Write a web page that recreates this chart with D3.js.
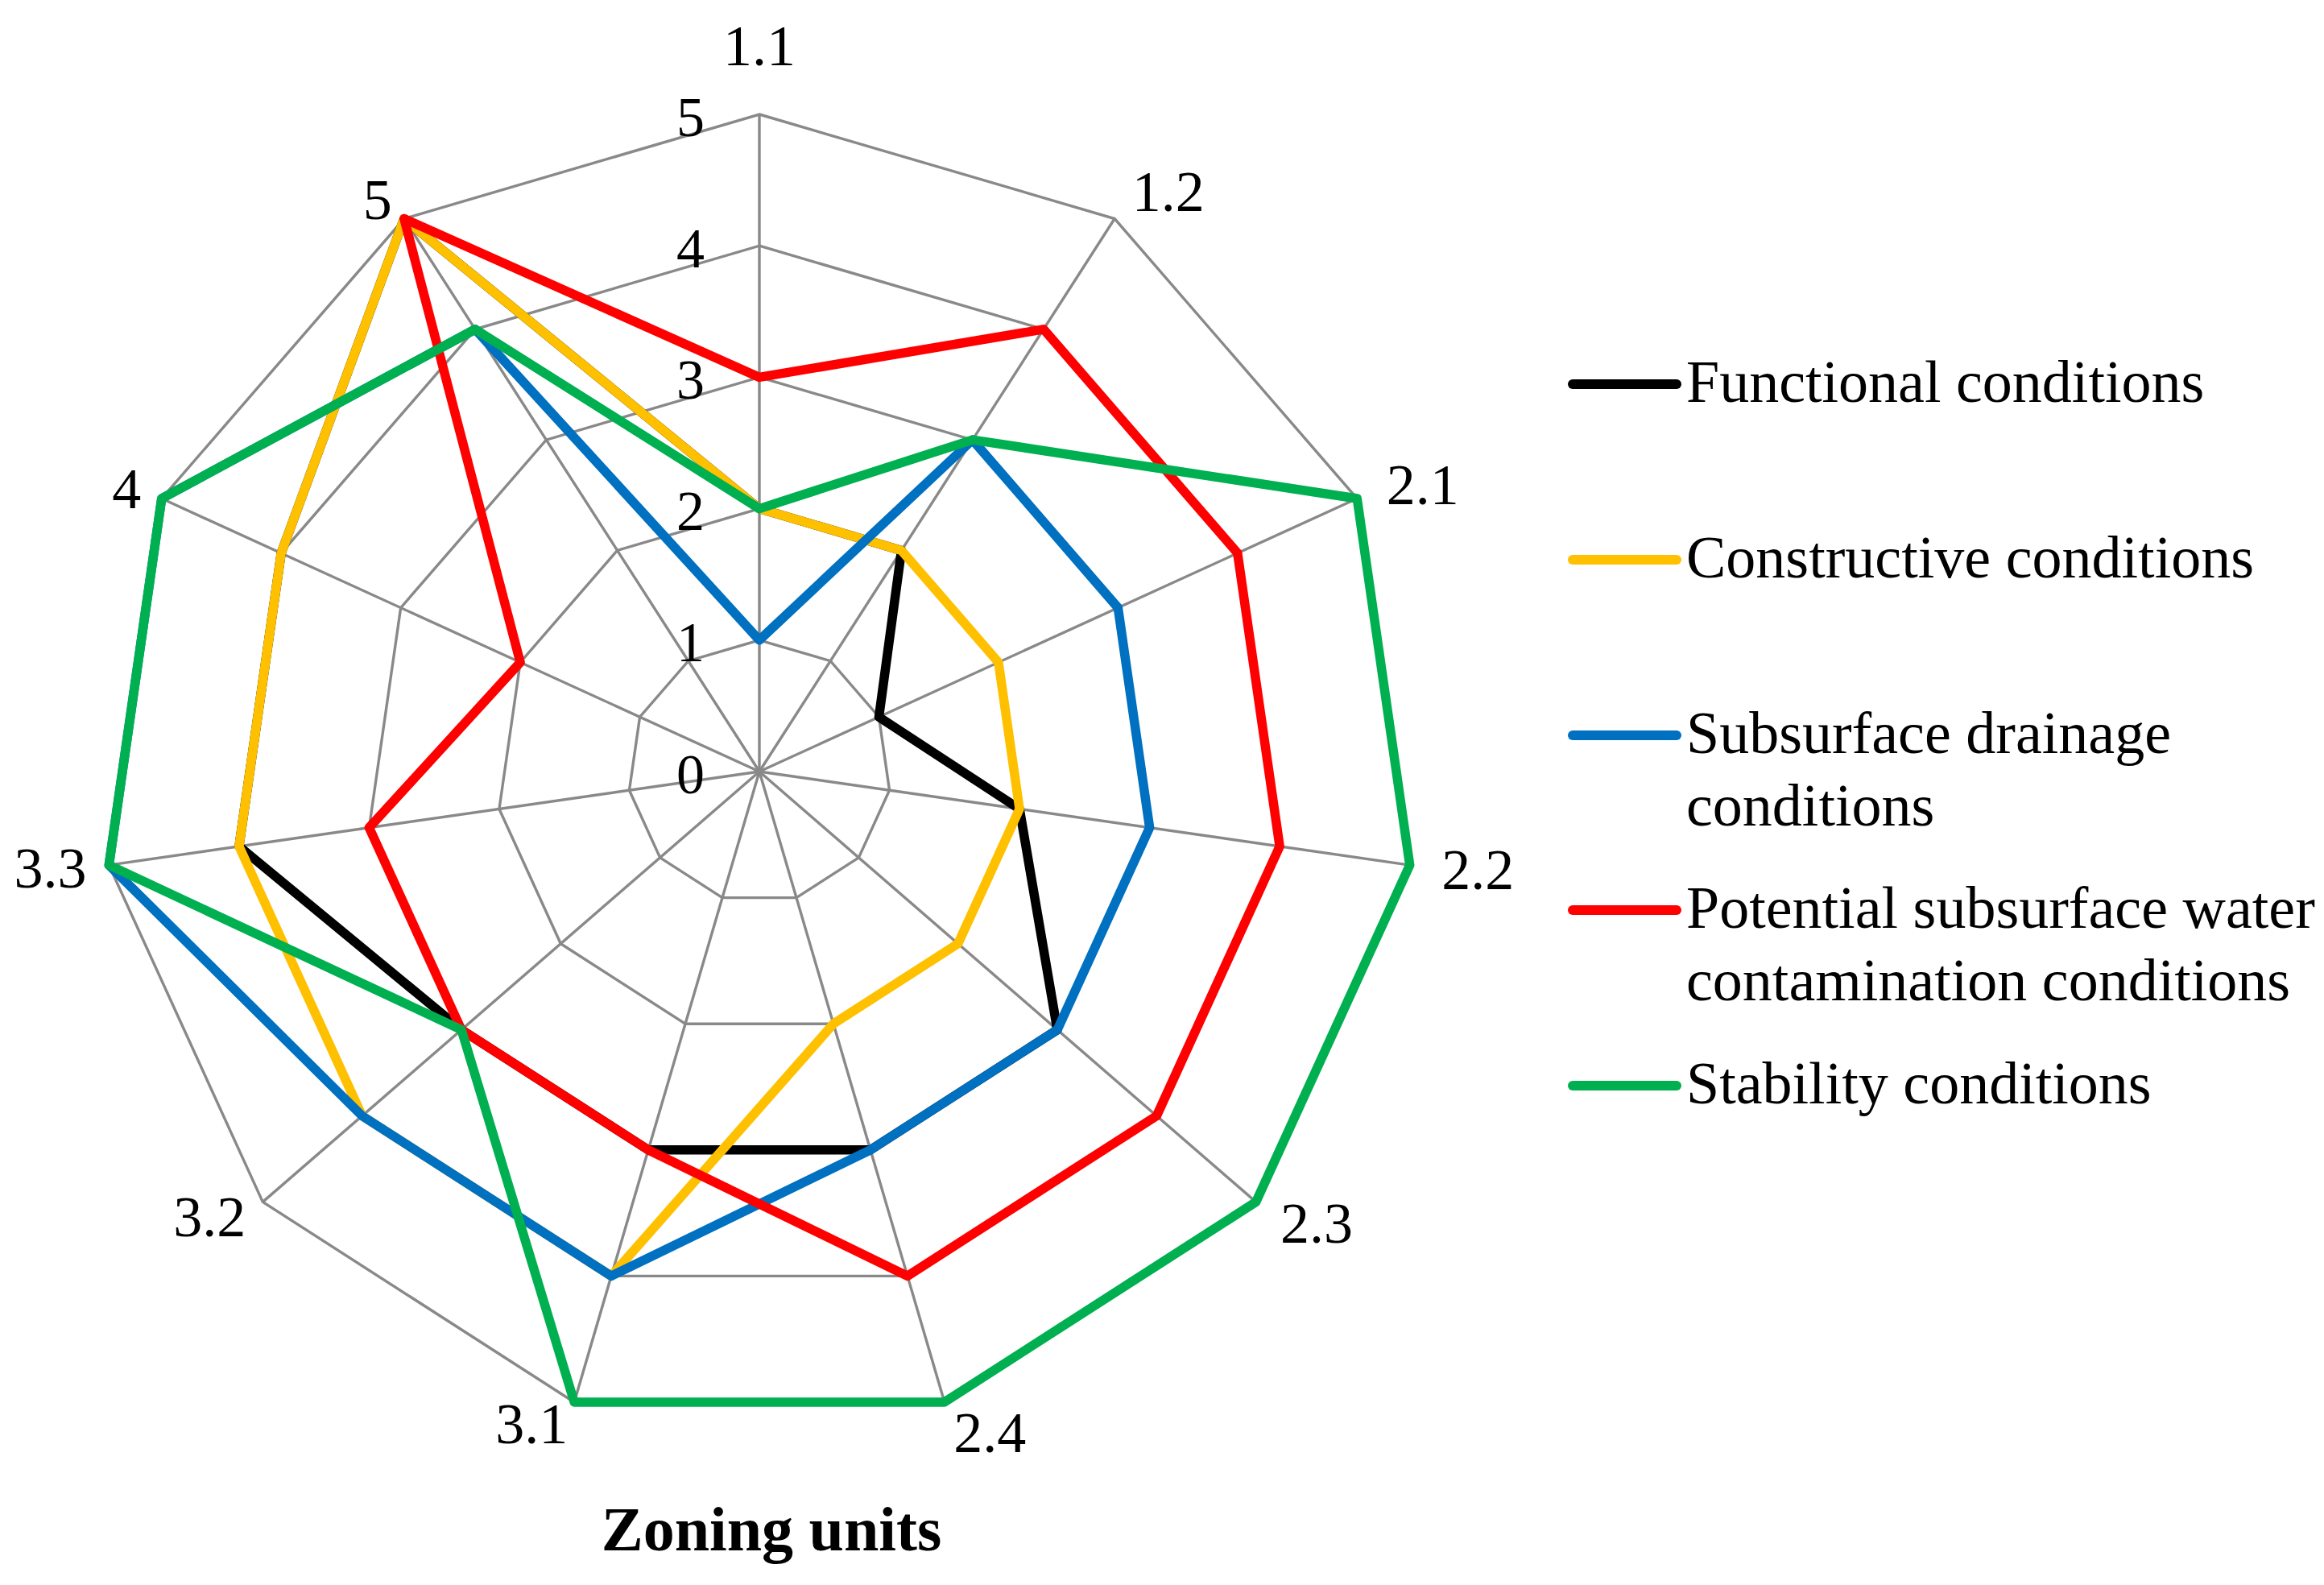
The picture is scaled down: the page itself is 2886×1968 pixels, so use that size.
<!DOCTYPE html>
<html>
<head>
<meta charset="utf-8">
<script src="https://cdn.jsdelivr.net/npm/d3@7"></script>
<style>
  html, body { margin: 0; padding: 0; background: #fff; }
  svg { display: block; }
  text { font-family: "Palatino Linotype", "Book Antiqua", Palatino, "Liberation Serif", serif; fill: #000; }
</style>
</head>
<body>
<svg id="chart" width="2886" height="1968"></svg>
<script>
// ---- data ----
const categories = ["1.1", "1.2", "2.1", "2.2", "2.3", "2.4", "3.1", "3.2", "3.3", "4", "5"];
const seriesNames = [
  ["Functional conditions"],
  ["Constructive conditions"],
  ["Subsurface drainage", "conditions"],
  ["Potential subsurface water", "contamination conditions"],
  ["Stability conditions"]
];
const functional   = [2, 2, 1, 2, 3, 3, 3, 3, 4, 4, 5];
const constructive = [2, 2, 2, 2, 2, 2, 4, 4, 4, 4, 5];
const drainage     = [1, 3, 3, 3, 3, 3, 4, 4, 5, 5, 4];
const contamination= [3, 4, 4, 4, 4, 4, 3, 3, 3, 2, 5];
const stability    = [2, 3, 5, 5, 5, 5, 5, 3, 5, 5, 4];
const tickValues = [0, 1, 2, 3, 4, 5];
const axisTitle = "Zoning units";

const seriesValues = [functional, constructive, drainage, contamination, stability];
const colors = ["#000000", "#FFC000", "#0070C0", "#FF0000", "#00B050"];

// ---- layout ----
const cx = 943, cy = 958, R = 816;
const svg = d3.select("#chart");
const g = svg.append("g").attr("transform", `translate(${cx},${cy})`);

const r = d3.scaleLinear().domain([0, 5]).range([0, R]);
const angle = d3.scaleLinear().domain([0, categories.length]).range([0, 2 * Math.PI]);

const radial = d3.lineRadial()
  .angle((d, i) => angle(i))
  .radius(d => r(d))
  .curve(d3.curveLinearClosed);

// grid rings
g.append("g").selectAll("path")
  .data(tickValues.filter(v => v > 0))
  .join("path")
  .attr("d", v => radial(categories.map(() => v)))
  .attr("fill", "none")
  .attr("stroke", "#898989")
  .attr("stroke-width", 3.4);

// spokes
g.append("g").selectAll("line")
  .data(categories)
  .join("line")
  .attr("x1", 0).attr("y1", 0)
  .attr("x2", (d, i) => r(5) * Math.sin(angle(i)))
  .attr("y2", (d, i) => -r(5) * Math.cos(angle(i)))
  .attr("stroke", "#898989")
  .attr("stroke-width", 3.4);

// series lines
g.append("g").selectAll("path")
  .data(seriesValues)
  .join("path")
  .attr("d", d => radial(d))
  .attr("fill", "none")
  .attr("stroke", (d, i) => colors[i])
  .attr("stroke-width", 11.5)
  .attr("stroke-linejoin", "round");

// tick labels
g.append("g").selectAll("text")
  .data(tickValues)
  .join("text")
  .attr("x", -68)
  .attr("y", v => -r(v) + 3)
  .attr("text-anchor", "end")
  .attr("dominant-baseline", "central")
  .attr("font-size", 70)
  .text(v => v);

// category labels
g.append("g").selectAll("text")
  .data(categories)
  .join("text")
  .each(function (d, i) {
    const a = angle(i), s = Math.sin(a), c = Math.cos(a);
    const gap = s < -0.1 ? 28 : 40;
    let x = (R + gap) * s, y = -(R + gap) * c;
    if (c > 0.95) y -= 45;
    const anchor = s > 0.1 ? "start" : (s < -0.1 ? "end" : "middle");
    d3.select(this)
      .attr("x", x).attr("y", y)
      .attr("text-anchor", anchor)
      .attr("dominant-baseline", "central");
  })
  .attr("font-size", 72)
  .text(d => d);

// axis title
svg.append("text")
  .attr("x", 958)
  .attr("y", 1925)
  .attr("text-anchor", "middle")
  .attr("font-size", 78)
  .attr("font-weight", "bold")
  .text(axisTitle);

// legend
const legendY = [477, 695, 913, 1130, 1348];
const lg = svg.append("g");
const items = lg.selectAll("g")
  .data(seriesNames)
  .join("g")
  .attr("transform", (d, i) => `translate(0,${legendY[i]})`);
items.append("line")
  .attr("x1", 1953).attr("x2", 2082)
  .attr("y1", 0).attr("y2", 0)
  .attr("stroke", (d, i) => colors[i])
  .attr("stroke-width", 12)
  .attr("stroke-linecap", "round");
items.append("text")
  .attr("x", 2094)
  .attr("y", 22)
  .attr("font-size", 74)
  .selectAll("tspan")
  .data(d => d)
  .join("tspan")
  .attr("x", 2094)
  .attr("dy", (d, j) => j === 0 ? 0 : 90)
  .text(d => d);
</script>
</body>
</html>
